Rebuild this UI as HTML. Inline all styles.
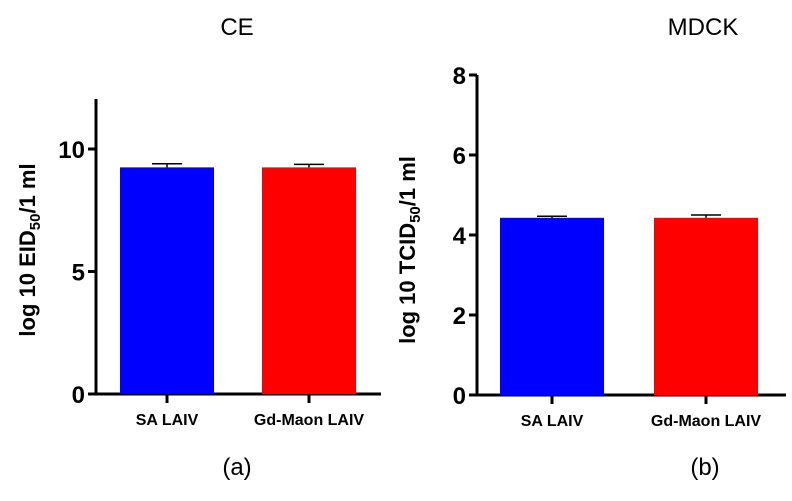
<!DOCTYPE html>
<html><head><meta charset="utf-8"><style>
body{margin:0;background:#fff;width:792px;height:496px;overflow:hidden;font-family:"Liberation Sans",Arial,sans-serif}
</style></head><body>
<svg id="s" width="792" height="496" xmlns="http://www.w3.org/2000/svg">
<text x="237" y="35" font-size="24" text-anchor="middle">CE</text>
<text x="703" y="35" font-size="24" text-anchor="middle">MDCK</text>
<text x="237" y="475" font-size="24" text-anchor="middle">(a)</text>
<text x="705" y="475" font-size="24" text-anchor="middle">(b)</text>
<text transform="translate(35,250) rotate(-90)" font-size="22" font-weight="bold" text-anchor="middle">log 10 EID<tspan font-size="15" dy="5">50</tspan><tspan dy="-5">/1 ml</tspan></text>
<text transform="translate(415,250) rotate(-90)" font-size="22" font-weight="bold" text-anchor="middle">log 10 TCID<tspan font-size="15" dy="5">50</tspan><tspan dy="-5">/1 ml</tspan></text>
</svg>
<script>
const categories=["SA LAIV","Gd-Maon LAIV"];
const ceValues=[9.25,9.25];
const ceErrors=[0.15,0.12];
const ceTicks=[0,5,10];
const mdckValues=[4.43,4.43];
const mdckErrors=[0.04,0.07];
const mdckTicks=[0,2,4,6,8];
const colors=["#0000ff","#ff0000"];
const svg=document.getElementById('s');
const NS="http://www.w3.org/2000/svg";
function mk(t,a){const e=document.createElementNS(NS,t);for(const k in a)e.setAttribute(k,a[k]);svg.appendChild(e);return e;}
function chart(p,vals,errs,ticks,pre){
  const y=v=>p.y0-(v-0)*(p.y0-p.yTop)/(p.vTop);
  let e=mk('line',{x1:p.ax,x2:p.ax,y1:p.axTop,y2:p.y0+1,stroke:'#000','stroke-width':3});
  
  e=mk('line',{x1:p.ax-1,x2:p.axEnd,y1:p.y0,y2:p.y0,stroke:'#000','stroke-width':3});
  
  ticks.forEach(t=>{
    const l=mk('line',{x1:p.ax-8,x2:p.ax,y1:y(t),y2:y(t),stroke:'#000','stroke-width':3});
    
    const tx=mk('text',{x:p.ax-11,y:y(t)+9,'font-size':24,'font-weight':'bold','text-anchor':'end'});
    tx.textContent=t;
    
  });
  categories.forEach((c,i)=>{
    const cx=p.cx[i];
    const b=mk('rect',{x:cx-p.bw/2,y:y(vals[i]),width:p.bw,height:p.y0-y(vals[i]),fill:colors[i]});
    
    const ey=y(vals[i]+errs[i]);
    const ev=mk('line',{x1:cx,x2:cx,y1:ey,y2:y(vals[i]),stroke:'#000','stroke-width':1.5});
    
    const ec=mk('line',{x1:cx-15,x2:cx+15,y1:ey,y2:ey,stroke:'#000','stroke-width':1.5});
    
    const tk=mk('line',{x1:cx,x2:cx,y1:p.y0,y2:p.y0+9,stroke:'#000','stroke-width':3});
    
    const tl=mk('text',{x:cx,y:p.y0+31,'font-size':16,'font-weight':'bold','text-anchor':'middle'});
    tl.textContent=c;
    
  });
}
chart({ax:96,axTop:99,axEnd:381,y0:394,yTop:149,vTop:10,cx:[167,309],bw:94},ceValues,ceErrors,ceTicks,'ce');
chart({ax:477,axTop:75,axEnd:786,y0:395,yTop:75,vTop:8,cx:[552,706],bw:104},mdckValues,mdckErrors,mdckTicks,'mdck');
</script>
</body></html>
